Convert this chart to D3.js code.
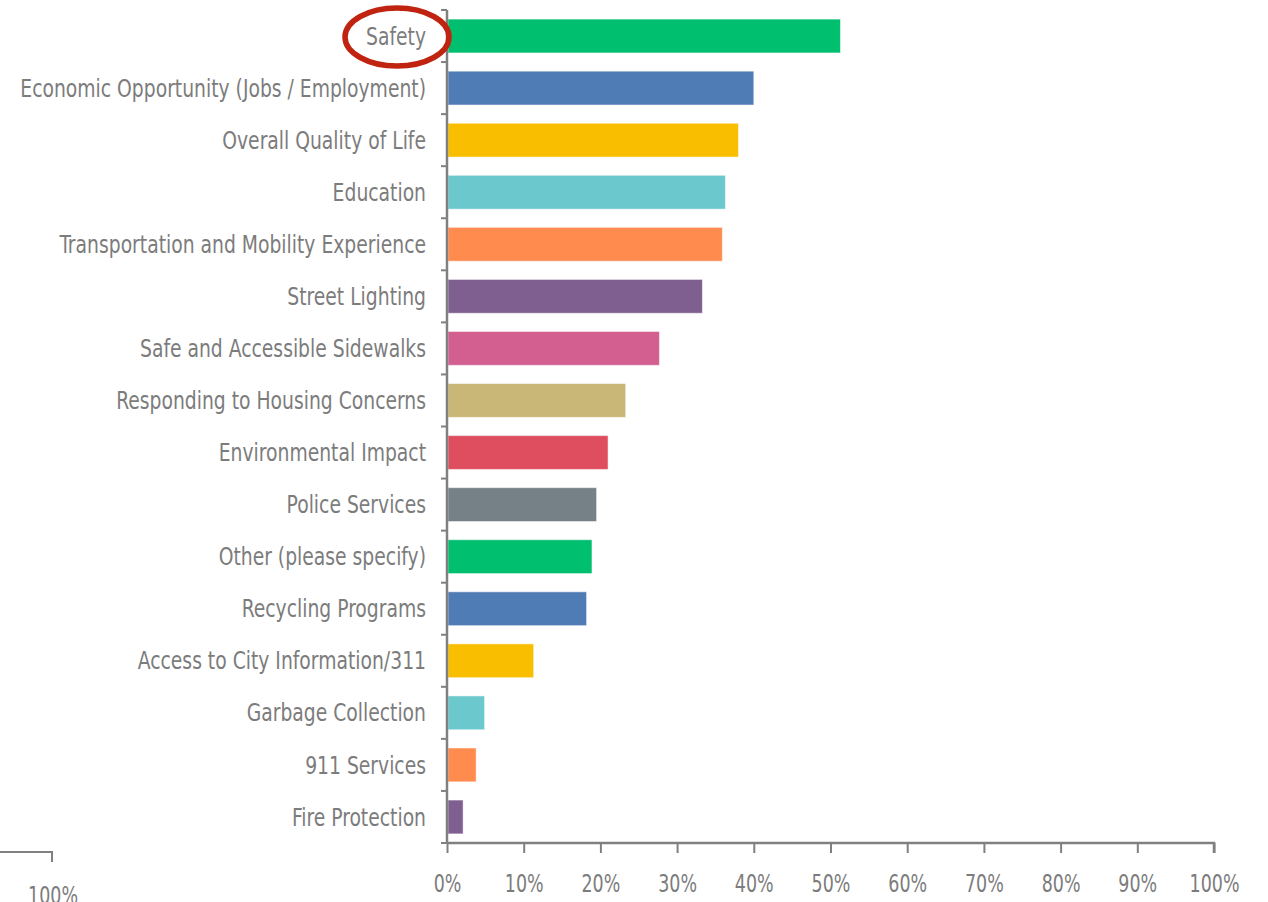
<!DOCTYPE html>
<html><head><meta charset="utf-8">
<script src="https://cdn.jsdelivr.net/npm/d3@7/dist/d3.min.js"></script>
<style>body{margin:0;background:#fff;}svg{display:block;}</style>
</head><body><div id="chart"></div>
<script>
const categories = ["Safety","Economic Opportunity (Jobs / Employment)","Overall Quality of Life","Education","Transportation and Mobility Experience","Street Lighting","Safe and Accessible Sidewalks","Responding to Housing Concerns","Environmental Impact","Police Services","Other (please specify)","Recycling Programs","Access to City Information/311","Garbage Collection","911 Services","Fire Protection"];
const values = [0.513,0.400,0.380,0.363,0.359,0.333,0.277,0.233,0.210,0.195,0.189,0.182,0.113,0.049,0.038,0.021];
const colors = ["#00BF6F","#507CB6","#F9BE00","#6BC8CD","#FF8B4F","#7F5F90","#D25F90","#C9B777","#DE4E5E","#768087","#00BF6F","#507CB6","#F9BE00","#6BC8CD","#FF8B4F","#7F5F90"];
const xTicks = [0,0.1,0.2,0.3,0.4,0.5,0.6,0.7,0.8,0.9,1.0];

const W=1268,H=902;
const font = "'DejaVu Sans Condensed','DejaVu Sans',sans-serif";
const svg=d3.select("#chart").append("svg").attr("width",W).attr("height",H);
const x=d3.scaleLinear().domain([0,1]).range([447,1214]);
const y=d3.scaleBand().domain(categories).range([10,843]).paddingInner(0.35).paddingOuter(0.175);

// bars
svg.selectAll("rect.bar").data(categories).enter().append("rect")
  .attr("x",x(0)+1).attr("y",d=>y(d)).attr("height",y.bandwidth())
  .attr("width",(d,i)=>x(values[i])-x(0)-1)
  .attr("fill",(d,i)=>colors[i]).attr("stroke","rgba(255,255,255,0.5)").attr("stroke-width",1);

// y axis
const axCol="#808080", txtCol="#7c7c7c";
svg.append("line").attr("x1",x(0)).attr("x2",x(0)).attr("y1",10).attr("y2",843).attr("stroke",axCol).attr("stroke-width",2.5);
const bounds=d3.range(categories.length+1).map(i=>10+i*y.step());
svg.selectAll("line.yt").data(bounds).enter().append("line")
  .attr("x1",x(0)-6).attr("x2",x(0)).attr("y1",d=>d).attr("y2",d=>d).attr("stroke",axCol).attr("stroke-width",2);
const labels=svg.selectAll("text.yl").data(categories).enter().append("text")
  .attr("text-anchor","end").attr("font-family",font).attr("font-size",24).attr("fill",txtCol).text(d=>d);
// condense horizontally to match a narrow typeface
const longest=d3.max(labels.nodes(),n=>n.getComputedTextLength());
const sx=406/longest;
labels.attr("transform",d=>`translate(${x(0)-21},${y(d)+y.bandwidth()/2}) scale(${sx},1)`).attr("dy","0.36em");

// x axis
const xa=svg.append("g").attr("transform","translate(0,843)")
  .call(d3.axisBottom(x).tickValues(xTicks).tickFormat(d3.format(".0%")).tickSize(10).tickPadding(22));
xa.select(".domain").attr("stroke",axCol).attr("stroke-width",2.5).attr("d","M"+x(0)+",0H"+x(1)+"V10");
xa.selectAll(".tick line").attr("stroke",axCol).attr("stroke-width",2);
const tt=xa.selectAll(".tick text").attr("font-family",font).attr("font-size",24).attr("fill",txtCol);
const w100=tt.nodes()[tt.size()-1].getComputedTextLength();
const tsx=50/w100;
tt.attr("transform",`scale(${tsx},1)`).attr("x",0);
tt.each(function(){ const t=d3.select(this); t.attr("transform",`translate(0,${+t.attr("y")}) scale(${tsx},1)`).attr("y",0); });

// highlight ellipse
svg.append("ellipse").attr("cx",397).attr("cy",37).attr("rx",52).attr("ry",29)
  .attr("fill","none").attr("stroke","#C0230F").attr("stroke-width",5.5);

// fragment of neighbouring chart axis
svg.append("path").attr("d","M0,852H52V862").attr("fill","none").attr("stroke",axCol).attr("stroke-width",2);
svg.append("text").attr("transform",`translate(53,904) scale(${tsx},1)`).attr("text-anchor","middle").attr("font-family",font).attr("font-size",24).attr("fill",txtCol).text("100%");
</script></body></html>
